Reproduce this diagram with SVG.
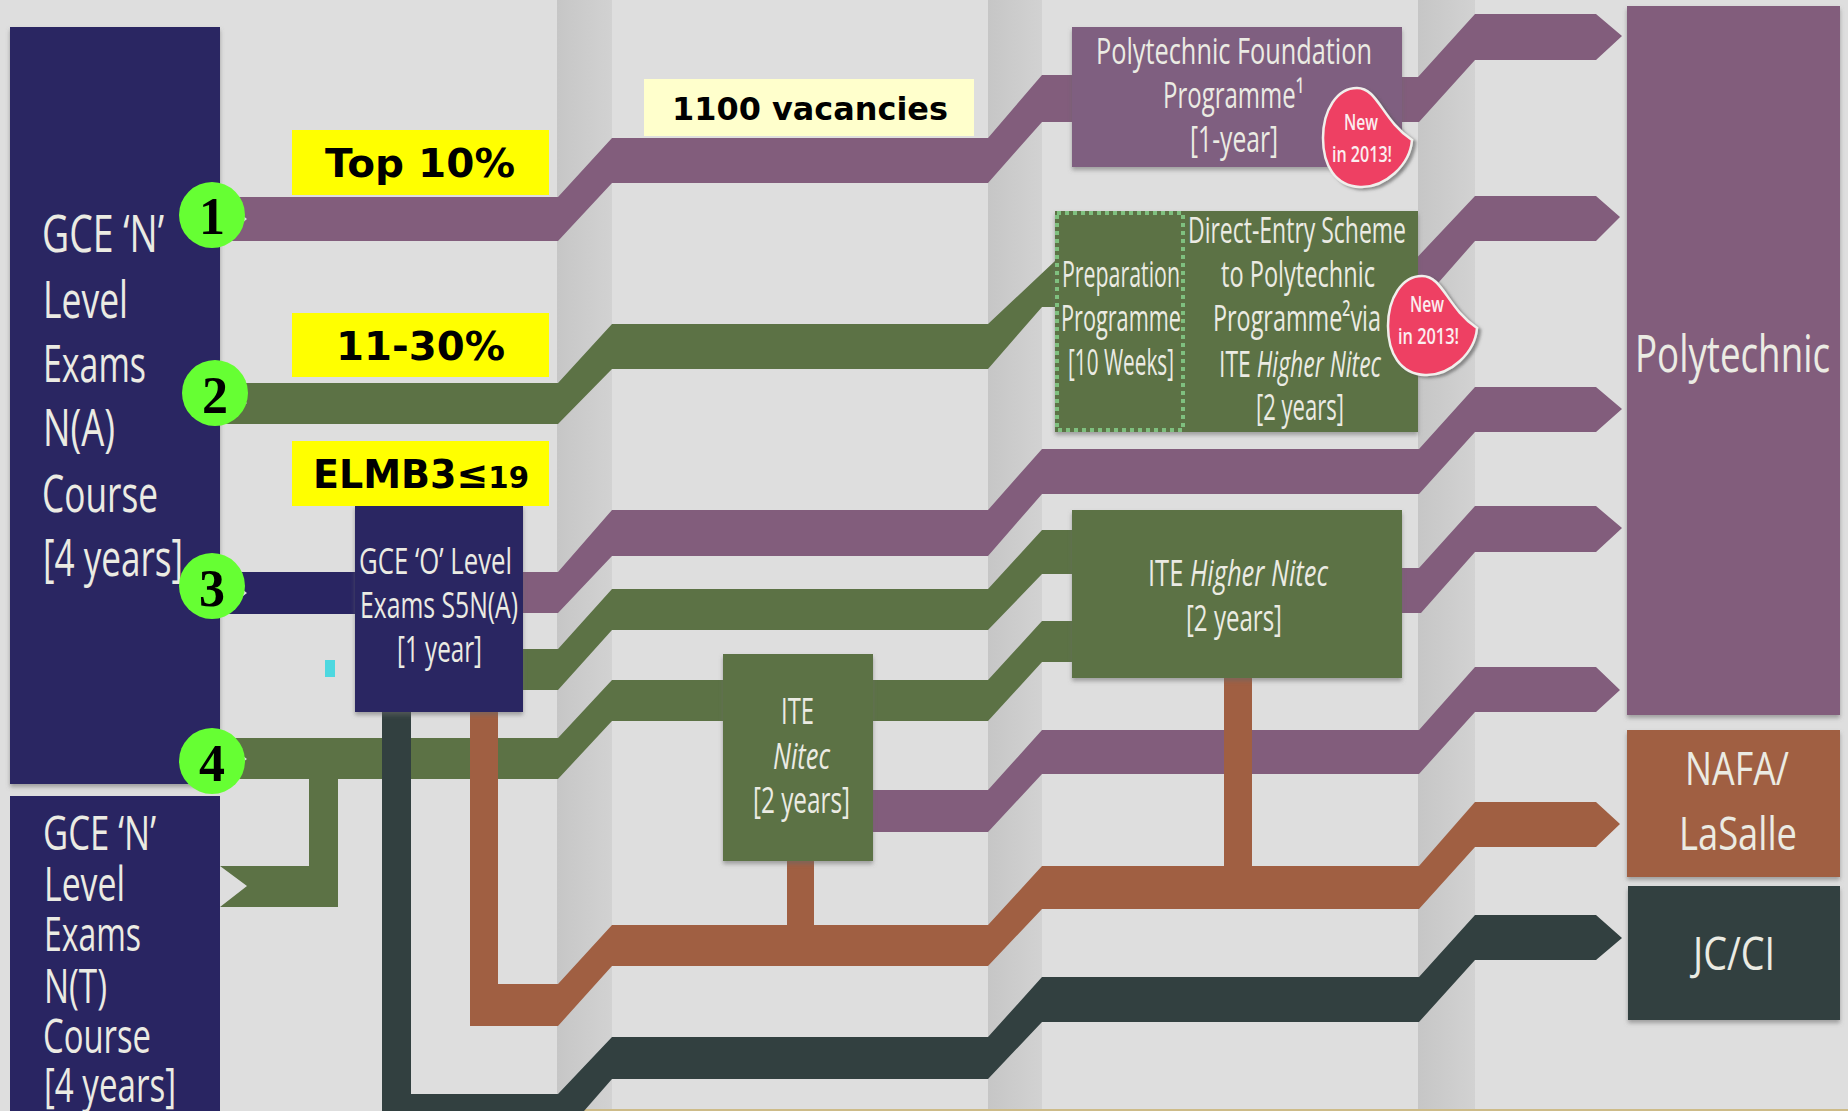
<svg xmlns="http://www.w3.org/2000/svg" width="1848" height="1111" viewBox="0 0 1848 1111">
<style>
.pu{fill:#825d7c}.gr{fill:#5c7245}.na{fill:#292562}.br{fill:#a05f42}.dk{fill:#324040}
.t{font-family:"Open Sans","Liberation Sans",sans-serif;fill:#ebebe3}
.a{font-size:52px}.b{font-size:47px}.c{font-size:36px}.e{font-size:46px}
.y{fill:#ffff00}
.l{font-family:"DejaVu Sans",sans-serif;font-weight:700;fill:#000;font-size:39px}
.n{font-family:"Liberation Serif",serif;font-weight:700;fill:#000;font-size:52px;text-anchor:middle}
.cir{fill:#66ff33}
.bad{fill:#ee4063;stroke:#f0efec;stroke-width:2.5;filter:url(#bs)}
.bt{font-family:"Open Sans","Liberation Sans",sans-serif;font-size:21px;font-weight:600;fill:#fbeef0}
.box{filter:url(#sh)}
</style>
<defs>
<linearGradient id="col" x1="0" x2="1" y1="0" y2="0"><stop offset="0" stop-color="#c6c6c6"/><stop offset="1" stop-color="#d2d2d2"/></linearGradient>
<filter id="sh" x="-5%" y="-5%" width="110%" height="112%"><feDropShadow dx="0" dy="3" stdDeviation="2" flood-color="#666" flood-opacity=".55"/></filter>
<filter id="bs" x="-10%" y="-10%" width="125%" height="125%"><feDropShadow dx="3" dy="2" stdDeviation="1.5" flood-color="#555" flood-opacity=".6"/></filter>
</defs>
<rect width="1848" height="1111" fill="#dedede"/>
<rect x="557" y="0" width="55" height="1111" fill="url(#col)"/>
<rect x="988" y="0" width="54" height="1111" fill="url(#col)"/>
<rect x="1418" y="0" width="57" height="1111" fill="url(#col)"/>
<rect x="542" y="1109" width="1306" height="2" fill="#cdbb88"/>

<g id="connectors">
<polygon class="pu" points="220,197 558,197 612,138 988,138 1042,75 1075,75 1075,122 1042,122 988,183 612,183 558,241 220,241 247,219"/>
<polygon class="gr" points="220,383 558,383 612,324 988,324 1055,261 1060,307 1042,307 988,369 612,369 558,424 220,424 247,403"/>
<polygon class="na" points="220,572 360,572 360,614 220,614 247,593"/>
<polygon class="pu" points="518,572 558,572 612,510 988,510 1042,449 1419,449 1475,387 1596,387 1622,409 1596,432 1475,432 1419,494 1042,494 988,556 612,556 558,613 518,613"/>
<polygon class="gr" points="518,649 558,649 612,589 988,589 1042,530 1075,530 1075,574 1042,574 988,630 612,630 558,690 518,690"/>
<polygon class="gr" points="220,738 558,738 612,680 988,680 1042,621 1075,621 1075,662 1042,662 988,721 612,721 558,779 338,779 338,907 220,907 247,886 220,866 309,866 309,779 220,779 247,759"/>
<polygon class="pu" points="868,790 988,790 1042,730 1419,730 1475,667 1596,667 1620,690 1596,712 1475,712 1419,774 1042,774 988,832 868,832"/>
<polygon class="pu" points="1398,77 1418,77 1475,14 1596,14 1622,36 1596,60 1475,60 1419,122 1398,122"/>
<polygon class="pu" points="1410,265 1475,196 1596,196 1620,217 1596,241 1475,241 1410,315"/>
<polygon class="pu" points="1398,568 1419,568 1475,506 1596,506 1622,528 1596,552 1475,552 1421,613 1398,613"/>
<polygon class="br" points="470,708 498,708 498,984 558,984 612,925 988,925 1042,866 1419,866 1475,802 1596,802 1620,824 1596,847 1475,847 1419,909 1042,909 988,966 612,966 558,1026 470,1026"/>
<rect class="br" x="787" y="858" width="27" height="70"/>
<rect class="br" x="1224" y="675" width="28" height="193"/>
<polygon class="dk" points="382,708 411,708 411,1094 558,1094 612,1037 988,1037 1042,977 1419,977 1475,915 1596,915 1622,938 1596,960 1475,960 1419,1022 1042,1022 988,1079 612,1079 584,1111 382,1111"/>
<rect x="325" y="660" width="10" height="17" fill="#4dd8e0"/>
</g>

<g id="gce-n-na">
<rect class="na box" x="10" y="27" width="210" height="757"/>
<text class="t a" x="42" y="252" textLength="122" lengthAdjust="spacingAndGlyphs">GCE ‘N’</text>
<text class="t a" x="43" y="318" textLength="85" lengthAdjust="spacingAndGlyphs">Level</text>
<text class="t a" x="43" y="382" textLength="103" lengthAdjust="spacingAndGlyphs">Exams</text>
<text class="t a" x="43" y="446" textLength="72" lengthAdjust="spacingAndGlyphs">N(A)</text>
<text class="t a" x="42" y="512" textLength="116" lengthAdjust="spacingAndGlyphs">Course</text>
<text class="t a" x="43" y="576" textLength="140" lengthAdjust="spacingAndGlyphs">[4 years]</text>
</g>
<g id="gce-n-nt">
<rect class="na" x="10" y="796" width="210" height="315"/>
<text class="t b" x="43" y="850" textLength="113" lengthAdjust="spacingAndGlyphs">GCE ‘N’</text>
<text class="t b" x="44" y="901" textLength="81" lengthAdjust="spacingAndGlyphs">Level</text>
<text class="t b" x="44" y="951" textLength="97" lengthAdjust="spacingAndGlyphs">Exams</text>
<text class="t b" x="44" y="1003" textLength="63" lengthAdjust="spacingAndGlyphs">N(T)</text>
<text class="t b" x="43" y="1053" textLength="108" lengthAdjust="spacingAndGlyphs">Course</text>
<text class="t b" x="44" y="1102" textLength="132" lengthAdjust="spacingAndGlyphs">[4 years]</text>
</g>
<g id="gce-o">
<rect class="na box" x="355" y="505" width="168" height="207"/>
<text class="t c" x="359" y="574" textLength="153" lengthAdjust="spacingAndGlyphs">GCE ‘O’ Level</text>
<text class="t c" x="360" y="618" textLength="158" lengthAdjust="spacingAndGlyphs">Exams S5N(A)</text>
<text class="t c" x="397" y="662" textLength="85" lengthAdjust="spacingAndGlyphs">[1 year]</text>
</g>
<g id="ite-nitec">
<rect class="gr box" x="723" y="654" width="150" height="207"/>
<text class="t c" x="781" y="724" textLength="33" lengthAdjust="spacingAndGlyphs">ITE</text>
<text class="t c" x="773" y="769" textLength="57" lengthAdjust="spacingAndGlyphs" font-style="italic">Nitec</text>
<text class="t c" x="753" y="813" textLength="97" lengthAdjust="spacingAndGlyphs">[2 years]</text>
</g>
<g id="ite-higher-nitec">
<rect class="gr box" x="1072" y="510" width="330" height="168"/>
<text class="t c" x="1148" y="586" textLength="180" lengthAdjust="spacingAndGlyphs">ITE <tspan font-style="italic">Higher Nitec</tspan></text>
<text class="t c" x="1186" y="631" textLength="96" lengthAdjust="spacingAndGlyphs">[2 years]</text>
</g>
<g id="foundation">
<rect class="box" x="1072" y="27" width="330" height="140" fill="#7f5f80"/>
<text class="t c" x="1096" y="64" textLength="276" lengthAdjust="spacingAndGlyphs">Polytechnic Foundation</text>
<text class="t c" x="1163" y="108" textLength="141" lengthAdjust="spacingAndGlyphs">Programme¹</text>
<text class="t c" x="1190" y="152" textLength="88" lengthAdjust="spacingAndGlyphs">[1-year]</text>
</g>
<g id="badge-1">
<path class="bad" d="M1357,88C1378,88 1382,120 1412,140C1410,165 1385,188 1360,187C1335,186 1323,165 1323,138C1323,110 1337,88 1357,88Z"/>
<text class="bt" x="1344" y="130" textLength="34" lengthAdjust="spacingAndGlyphs">New</text>
<text class="bt" x="1332" y="162" textLength="60" lengthAdjust="spacingAndGlyphs">in 2013!</text>
</g>
<g id="direct-entry">
<rect class="gr box" x="1055" y="211" width="363" height="221"/>
<rect x="1057" y="213" width="126" height="217" fill="none" stroke="#7fc07f" stroke-width="4" stroke-dasharray="4 4"/>
<text class="t c" x="1062" y="287" textLength="118" lengthAdjust="spacingAndGlyphs">Preparation</text>
<text class="t c" x="1061" y="331" textLength="120" lengthAdjust="spacingAndGlyphs">Programme</text>
<text class="t c" x="1068" y="375" textLength="106" lengthAdjust="spacingAndGlyphs">[10 Weeks]</text>
<text class="t c" x="1188" y="243" textLength="218" lengthAdjust="spacingAndGlyphs">Direct-Entry Scheme</text>
<text class="t c" x="1221" y="287" textLength="154" lengthAdjust="spacingAndGlyphs">to Polytechnic</text>
<text class="t c" x="1213" y="331" textLength="168" lengthAdjust="spacingAndGlyphs">Programme²via</text>
<text class="t c" x="1219" y="377" textLength="162" lengthAdjust="spacingAndGlyphs">ITE <tspan font-style="italic">Higher Nitec</tspan></text>
<text class="t c" x="1256" y="420" textLength="88" lengthAdjust="spacingAndGlyphs">[2 years]</text>
</g>
<g id="badge-2">
<path class="bad" transform="translate(65,188)" d="M1357,88C1378,88 1382,120 1412,140C1410,165 1385,188 1360,187C1335,186 1323,165 1323,138C1323,110 1337,88 1357,88Z"/>
<text class="bt" x="1410" y="312" textLength="34" lengthAdjust="spacingAndGlyphs">New</text>
<text class="bt" x="1398" y="344" textLength="61" lengthAdjust="spacingAndGlyphs">in 2013!</text>
</g>
<g id="polytechnic">
<rect class="pu box" x="1627" y="6" width="213" height="709"/>
<text class="t a" x="1635" y="372" textLength="195" lengthAdjust="spacingAndGlyphs">Polytechnic</text>
</g>
<g id="nafa">
<rect class="br box" x="1627" y="730" width="213" height="147"/>
<text class="t e" x="1685" y="785" textLength="104" lengthAdjust="spacingAndGlyphs">NAFA/</text>
<text class="t e" x="1679" y="850" textLength="118" lengthAdjust="spacingAndGlyphs">LaSalle</text>
</g>
<g id="jc">
<rect class="dk box" x="1628" y="886" width="212" height="134"/>
<text class="t e" x="1693" y="970" textLength="82" lengthAdjust="spacingAndGlyphs">JC/CI</text>
</g>

<g id="label-top">
<rect class="y" x="292" y="130" width="257" height="65"/>
<text class="l" x="325" y="177" textLength="190" lengthAdjust="spacingAndGlyphs">Top 10%</text>
</g>
<g id="label-mid">
<rect class="y" x="292" y="313" width="257" height="64"/>
<text class="l" x="336" y="360" textLength="169" lengthAdjust="spacingAndGlyphs">11-30%</text>
</g>
<g id="label-elmb">
<rect class="y" x="292" y="441" width="257" height="65"/>
<text class="l" x="313" y="488" textLength="216" lengthAdjust="spacingAndGlyphs">ELMB3≤<tspan style="font-size:30px">19</tspan></text>
</g>
<g id="label-vac">
<rect x="644" y="79" width="330" height="57" fill="#ffffcc"/>
<text class="l" x="672" y="120" style="font-size:32px" textLength="276" lengthAdjust="spacingAndGlyphs">1100 vacancies</text>
</g>

<g id="c1"><ellipse class="cir" cx="212" cy="215" rx="33" ry="33"/><text class="n" x="212" y="234">1</text></g>
<g id="c2"><ellipse class="cir" cx="215" cy="393" rx="33" ry="33"/><text class="n" x="215" y="413">2</text></g>
<g id="c3"><ellipse class="cir" cx="212" cy="586" rx="33" ry="33"/><text class="n" x="212" y="606">3</text></g>
<g id="c4"><ellipse class="cir" cx="212" cy="761" rx="33" ry="33"/><text class="n" x="212" y="781">4</text></g>
</svg>
